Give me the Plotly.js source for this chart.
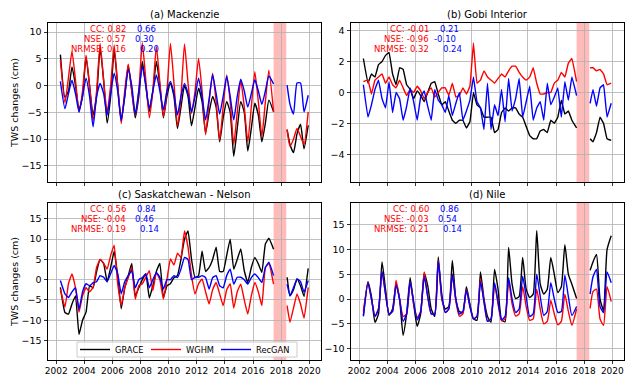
<!DOCTYPE html>
<html>
<head>
<meta charset="utf-8">
<script src="https://cdn.plot.ly/plotly-3.0.1.min.js"></script>
<style>html,body{margin:0;padding:0;background:#fff}#chart{width:625px;height:376px}</style>
</head>
<body>
<div id="chart"></div>
<script>
// Time (decimal years); null entry at 2017.9 marks the GRACE gap
const time = [2002.3, 2002.625, 2002.875,
  2003.125, 2003.375, 2003.625, 2003.875,
  2004.125, 2004.375, 2004.625, 2004.875,
  2005.125, 2005.375, 2005.625, 2005.875,
  2006.125, 2006.375, 2006.625, 2006.875,
  2007.125, 2007.375, 2007.625, 2007.875,
  2008.125, 2008.375, 2008.625, 2008.875,
  2009.125, 2009.375, 2009.625, 2009.875,
  2010.125, 2010.375, 2010.625, 2010.875,
  2011.125, 2011.375, 2011.625, 2011.875,
  2012.125, 2012.375, 2012.625, 2012.875,
  2013.125, 2013.375, 2013.625, 2013.875,
  2014.125, 2014.375, 2014.625, 2014.875,
  2015.125, 2015.375, 2015.625, 2015.875,
  2016.125, 2016.375, 2016.625, 2016.875,
  2017.125, 2017.46,
  2017.9,
  2018.42, 2018.625, 2018.875, 2019.125, 2019.375, 2019.625, 2019.92];

// (a) Mackenzie
const macGRACE = [5.8, -2.2, -1.0,
  3.5, 0.0, -4.5, -2.0,
  5.3, 0.0, -5.5, -2.0,
  7.0, 1.0, -7.0, -2.0,
  6.5, 0.0, -6.5, -2.0,
  3.8, -1.0, -6.0, -2.0,
  4.5, 0.0, -4.8, -1.0,
  4.5, 0.0, -6.0, -2.0,
  0.5, -2.0, -8.0, -4.0,
  0.0, -2.0, -7.5, -4.0,
  -0.5, -3.0, -8.8, -5.0,
  -2.0, -4.0, -10.5, -6.0,
  -3.0, -5.0, -13.2, -8.0,
  -3.0, -5.0, -12.2, -8.0,
  -3.3, -5.5, -10.5, -7.0,
  -2.7, -4.9,
  null,
  -8.2, -11.0, -12.5, -9.0, -7.2, -11.8, -7.4];
const macWGHM = [4.8, -3.2, 1.5,
  6.4, 1.0, -5.0, -1.0,
  5.7, 0.0, -6.5, -1.0,
  7.9, 1.0, -5.0, 0.0,
  7.6, 0.0, -7.1, -1.0,
  4.0, -1.0, -5.5, -1.0,
  8.0, 1.0, -6.0, -1.0,
  7.3, 0.5, -5.8, -1.0,
  7.9, 0.5, -7.5, -2.0,
  7.8, 0.5, -5.2, -1.0,
  5.1, -1.0, -9.2, -3.0,
  2.3, -3.0, -10.2, -4.0,
  2.0, -3.0, -11.0, -5.0,
  1.0, -4.0, -10.5, -4.0,
  2.6, -3.0, -9.5, -3.0,
  2.9, -4.9,
  null,
  -8.2, -11.3, -10.0, -8.0, -9.5, -11.0, -4.9];
const macRecGAN = [0.8, -4.3, -1.5,
  1.0, -1.5, -4.9, -2.0,
  1.4, -2.0, -7.7, -2.0,
  0.4, -1.5, -5.5, -1.5,
  2.3, -1.0, -6.5, -2.0,
  3.0, 0.0, -5.3, -1.0,
  3.6, 0.0, -4.3, -1.0,
  2.0, -1.0, -4.5, -1.0,
  0.8, -1.5, -5.5, -2.0,
  0.4, -1.5, -4.9, -2.0,
  1.4, -2.0, -6.4, -2.5,
  2.0, -1.5, -5.3, -2.0,
  1.7, -2.0, -6.4, -2.0,
  1.2, -1.0, -4.0, -1.5,
  1.1, -1.0, -3.5, -1.0,
  1.8, 0.3,
  null,
  0.1, -3.5, -5.3, 0.5, 0.5, -4.9, -1.8];

// (b) Gobi Interior
const gobiGRACE = [2.2, 0.6, 1.2,
  1.0, 1.8, 2.0, 2.4,
  2.6, 1.2, 0.5, 1.6,
  1.5, 0.5, 0.2, -0.4,
  0.1, -0.2, -0.6, 0.0,
  0.6, 0.7, -0.1, -0.8,
  -0.6, -1.2, -1.8, -2.0,
  -1.8, -1.8, -2.3, -1.9,
  0.0, -0.8, -1.0, -1.6,
  -1.6, -1.6, -2.6, -2.4,
  -1.3, -1.0, -1.2, -1.0,
  -1.0, -1.4, -1.6, -2.2,
  -2.8, -3.0, -3.0, -2.5,
  -2.4, -2.6, -1.8, -2.0,
  -1.6, -0.5, -1.4, -1.2,
  -1.8, -2.3,
  null,
  -3.0, -3.2, -2.6, -1.6, -2.0, -3.0, -3.1];
const gobiWGHM = [0.7, 0.8, -0.1,
  0.8, 1.0, 1.2, 0.6,
  1.0, 0.5, 0.3, 0.8,
  0.3, -0.2, 0.2, 0.0,
  0.4, 0.1, -0.4, 0.0,
  0.3, -0.3, 0.0, 0.3,
  0.3, -0.2, 0.6, -0.3,
  -0.2, 0.3, -0.1, 0.4,
  3.2, 0.6, 0.8, 1.4,
  1.0, 0.8, 0.6, 0.9,
  1.2, 1.0, 1.4, 1.7,
  1.7, 1.3, 1.0, 0.8,
  1.0, 1.6, 0.6, -0.1,
  -0.1, 0.0, 0.0, 0.6,
  0.8, 1.3, 1.0, 1.9,
  2.2, 0.7,
  null,
  1.6, 1.6, 1.4, 1.5, 1.2, 0.5, 0.6];
const gobiRecGAN = [0.5, -1.6, -0.8,
  0.2, 0.8, -0.4, -1.0,
  0.7, -1.3, 0.0, -0.4,
  -1.8, -0.9, 0.3, -0.6,
  -1.8, -0.3, 0.1, -0.9,
  -1.8, 0.2, -0.5, -0.8,
  -1.3, -0.2, -1.5, -0.7,
  0.0, -1.8, -1.2, -0.5,
  1.0, -0.6, -1.0, -2.4,
  0.6, -2.4, -0.8, -1.5,
  0.2, -1.9, 0.9, -1.2,
  -0.4, 0.9, -1.6, -0.6,
  0.4, -1.8, -1.0, -0.6,
  -1.8, 0.6, -0.8, -0.3,
  0.3, -1.6, 0.7, -0.5,
  1.0, -0.2,
  null,
  -0.7, 0.2, -0.9, 0.3, 0.5, -1.6, -0.7];

// (c) Saskatchewan - Nelson
const sasGRACE = [-1.9, -8.1, -8.5,
  -6.0, -4.0, -13.5, -10.0,
  -8.0, -1.5, -2.0, 2.0,
  5.0, 4.0, -0.5, 3.0,
  7.0, 1.0, -7.2, -2.0,
  1.0, 4.0, -4.0, -2.0,
  0.0, 1.5, -4.5, -1.5,
  2.0, 4.0, -4.5, -1.5,
  -1.0, 0.5, 1.0, 5.0,
  10.0, 12.0, 5.0, 0.5,
  1.0, 7.0, 2.0, 3.0,
  5.0, 8.0, 2.0, 2.0,
  6.0, 10.0, 2.6, 5.0,
  7.6, 2.2, -0.7, 3.0,
  5.5, 3.9, 1.8, 8.8,
  10.2, 7.5,
  null,
  0.6, -4.0, -2.5, 0.2, -1.5, -4.1, 2.8];
const sasWGHM = [-2.3, -6.8, -1.0,
  1.4, -2.0, -8.0, -4.0,
  -2.0, -3.0, -1.9, 3.0,
  5.0, 4.0, 2.6, 6.0,
  8.5, -1.0, -6.4, -2.0,
  0.5, 3.0, -4.8, -1.5,
  -1.0, 0.6, 2.2, -2.7,
  1.8, 0.0, -4.8, 0.0,
  5.1, 3.6, 6.5, 5.5,
  12.0, 8.0, 1.0, -3.5,
  -1.0, 0.2, -3.0, -6.0,
  -2.5, -0.7, -3.5, -6.4,
  -2.5, -1.0, -7.0, -3.0,
  -1.1, -5.0, -8.5, -4.0,
  -0.7, -3.0, -6.4, 3.0,
  4.0, -1.1,
  null,
  -6.4, -10.5, -7.0, -3.5, -6.0, -9.5, -1.9];
const sasRecGAN = [-0.2, -3.5, -4.4,
  -3.0, -2.0, -7.3, -3.0,
  -1.0, -1.5, -0.8, -0.5,
  1.0, 0.6, -0.5, 1.5,
  3.5, 1.5, -3.5, -0.5,
  1.0, 2.2, -2.0, 0.0,
  0.5, 1.5, -2.0, 0.0,
  1.8, 0.5, -2.3, 0.0,
  0.0, 1.0, 0.5, 2.6,
  5.5, 5.0, 0.0, 0.6,
  0.6, 1.0, 0.5, -2.3,
  0.5, 1.0, -1.5, -2.0,
  1.0, 2.6, -1.1, 0.6,
  0.6, 0.0, -1.1, 0.5,
  1.4, 0.5, -0.7, 3.0,
  4.3, 1.0,
  null,
  -1.1, -4.0, -2.0, 0.2, -0.5, -3.1, -0.2];

// (d) Nile
const nileGRACE = [-3.3, 3.5, 0.5,
  -4.7, -3.0, 7.5, 2.0,
  -3.3, -2.0, 3.0, 0.0,
  -7.3, -3.0, 4.3, -1.0,
  -5.5, -3.0, 5.3, 2.7,
  -2.0, -3.5, 8.5, 0.0,
  -2.0, -1.5, 7.8, 0.0,
  -2.5, -2.7, 2.5, -1.0,
  -4.0, -4.3, 5.5, 0.0,
  -3.5, -4.7, 6.0, 2.0,
  -4.2, -4.6, 10.4, 3.0,
  0.1, 0.5, 8.4, 2.0,
  0.3, 1.0, 13.8, 3.0,
  1.0, 2.0, 8.4, 5.0,
  1.3, 2.5, 11.0, 5.0,
  3.0, 0.1,
  null,
  5.8, 7.5, 9.0, 0.0, -2.3, 10.0, 12.8];
const nileWGHM = [-2.5, 3.3, 0.0,
  -3.5, -2.0, 5.5, 1.0,
  -3.0, -2.5, 3.8, 0.0,
  -3.5, -3.0, 3.5, -1.0,
  -3.7, -2.5, 5.5, 0.5,
  -3.0, -3.0, 7.8, 0.5,
  -2.7, -2.0, 5.0, -0.5,
  -3.5, -3.0, 2.0, -1.5,
  -4.0, -3.5, 4.0, -0.5,
  -4.5, -4.0, 3.0, -1.0,
  -4.4, -4.0, 3.7, -1.0,
  -3.4, -3.0, 2.5, -1.5,
  -4.3, -4.0, 2.0, -2.0,
  -5.0, -4.5, -0.3, -3.0,
  -5.2, -4.5, 1.0, -2.5,
  -5.3, -2.0,
  null,
  -1.9, 1.5, 2.0, -4.0, -5.3, 2.5, -0.5];
const nileRecGAN = [-3.5, 3.3, 0.0,
  -3.5, -2.0, 5.6, 1.0,
  -3.0, -2.5, 2.8, 0.0,
  -4.5, -3.0, 3.5, -0.5,
  -4.2, -2.5, 4.5, 0.5,
  -3.0, -3.0, 7.6, 1.0,
  -2.7, -2.0, 5.0, 0.0,
  -3.0, -2.5, 1.8, -1.5,
  -4.0, -3.5, 3.5, -0.5,
  -4.5, -4.0, 3.3, -0.5,
  -4.2, -3.5, 4.3, 0.0,
  -2.7, -2.0, 4.6, 0.5,
  -3.5, -3.0, 5.0, 0.5,
  -3.3, -2.5, 3.3, 0.0,
  -2.7, -2.5, 4.8, 0.5,
  -3.3, -1.5,
  null,
  1.0, 4.5, 6.0, -1.5, -2.7, 5.5, 3.3];

const seriesNames = ["GRACE", "WGHM", "RecGAN"];
const seriesColors = ["#000000", "#ff0000", "#0000ff"];
const panelTitles = ["(a) Mackenzie", "(b) Gobi Interior", "(c) Saskatchewan - Nelson", "(d) Nile"];
const statLabels = ["CC: ", "NSE: ", "NRMSE: "];
const statsWGHM = [["0.82", "0.57", "0.16"], ["-0.01", "-0.96", "0.32"], ["0.56", "-0.04", "0.19"], ["0.60", "-0.03", "0.21"]];
const statsRecGAN = [["0.66", "0.30", "0.20"], ["0.21", "-0.10", "0.24"], ["0.84", "0.46", "0.14"], ["0.86", "0.54", "0.14"]];
const yTickVals = [[-15, -10, -5, 0, 5, 10], [-4, -2, 0, 2, 4], [-15, -10, -5, 0, 5, 10, 15], [-10, -5, 0, 5, 10, 15]];
const yRanges = [[-18, 11.7], [-5.8, 4.5], [-19.8, 18.9], [-12.3, 19.4]];
const xTickVals = [2002, 2004, 2006, 2008, 2010, 2012, 2014, 2016, 2018, 2020];
const gapStart = 2017.46, gapEnd = 2018.36;

const panels = [
  [macGRACE, macWGHM, macRecGAN],
  [gobiGRACE, gobiWGHM, gobiRecGAN],
  [sasGRACE, sasWGHM, sasRecGAN],
  [nileGRACE, nileWGHM, nileRecGAN]
];

const W = 625, H = 376;
const FONT = "DejaVu Sans, sans-serif";
const boxes = [ // [left, right, top, bottom] in px
  [48, 321, 23, 182], [351, 624, 23, 182],
  [48, 321, 203, 360], [351, 624, 203, 360]
];
const smooth = [0.5, 0.2, 0.35, 0.5];
const legendIds = ["legend", "legend2", "legend3"];
const legendX = [75, 146, 216];           // px, left edge of each legend entry
const legBox = [77, 297, 342, 357];       // legend frame inside panel (c)

const traces = [];
panels.forEach((p, i) => {
  const ax = i === 0 ? "" : String(i + 1);
  p.forEach((vals, k) => {
    traces.push({
      x: time, y: vals, type: "scatter", mode: "lines",
      name: seriesNames[k], legendgroup: seriesNames[k],
      legend: legendIds[k], showlegend: i === 2,
      line: {color: seriesColors[k], width: 1.4, shape: "spline", smoothing: smooth[i]},
      xaxis: "x" + ax, yaxis: "y" + ax,
      connectgaps: false, hoverinfo: "skip"
    });
  });
});

const layout = {
  width: W, height: H,
  margin: {l: 0, r: 0, t: 0, b: 0},
  paper_bgcolor: "#ffffff", plot_bgcolor: "#ffffff",
  font: {family: FONT, size: 9.5, color: "#000000"},
  showlegend: true,
  shapes: [{
    type: "rect", xref: "paper", yref: "paper",
    x0: legBox[0] / W, x1: legBox[1] / W, y0: 1 - legBox[3] / H, y1: 1 - legBox[2] / H,
    fillcolor: "rgba(255,255,255,0.85)", line: {color: "#cccccc", width: 1}, layer: "above"
  }],
  annotations: []
};
legendIds.forEach((id, k) => {
  layout[id] = {
    orientation: "h", x: legendX[k] / W, y: 1 - ((legBox[2] + legBox[3]) / 2) / H,
    xanchor: "left", yanchor: "middle",
    bgcolor: "rgba(0,0,0,0)", borderwidth: 0,
    font: {family: FONT, size: 8.3}, itemwidth: 30
  };
});

boxes.forEach((b, i) => {
  const ax = i === 0 ? "" : String(i + 1);
  const bottomRow = i >= 2;
  layout["xaxis" + ax] = {
    domain: [b[0] / W, b[1] / W], range: [2001.42, 2020.83],
    tickvals: xTickVals, ticktext: xTickVals.map(String),
    showticklabels: bottomRow, ticks: "outside", ticklen: 2.5, tickwidth: 0.8, tickcolor: "#000",
    showgrid: true, gridcolor: "#b0b0b0", gridwidth: 0.8, zeroline: false,
    showline: true, linecolor: "#000", linewidth: 1, mirror: true,
    anchor: "y" + ax, tickfont: {size: 9, family: FONT}
  };
  layout["yaxis" + ax] = {
    domain: [1 - b[3] / H, 1 - b[2] / H], range: yRanges[i],
    tickvals: yTickVals[i], ticks: "outside", ticklen: 3.5, tickwidth: 0.8, tickcolor: "#000",
    showgrid: true, gridcolor: "#b0b0b0", gridwidth: 0.8, zeroline: false,
    showline: true, linecolor: "#000", linewidth: 1, mirror: true,
    anchor: "x" + ax, tickfont: {size: 9.5, family: FONT}
  };
  if (i === 0 || i === 2) {
    layout["yaxis" + ax].title = {text: "TWS changes (cm)", font: {size: 9.5, family: FONT}, standoff: 1};
  }
  layout.shapes.push({
    type: "rect", xref: "x" + ax, yref: "y" + ax + " domain",
    x0: gapStart, x1: gapEnd, y0: 0, y1: 1,
    fillcolor: "rgba(255,0,0,0.27)", line: {width: 0}, layer: "below"
  });
  // subplot title
  layout.annotations.push({
    text: panelTitles[i], xref: "paper", yref: "paper",
    x: (b[0] + b[1]) / 2 / W, y: 1 - (b[2] - 8.5) / H,
    xanchor: "center", yanchor: "middle", showarrow: false,
    font: {size: 10, family: FONT, color: "#000"}
  });
  // statistics
  const redRight = b[0] + 80;
  const blueLeft = [b[0] + 87, b[0] + 85, b[0] + 90];
  const lineY = [b[2] + 6.3, b[2] + 16, b[2] + 25.7];
  for (let r = 0; r < 3; r++) {
    layout.annotations.push({
      text: statLabels[r] + statsWGHM[i][r], xref: "paper", yref: "paper",
      x: redRight / W, y: 1 - lineY[r] / H, xanchor: "right", yanchor: "middle",
      showarrow: false, font: {size: 8.5, family: FONT, color: "#ff0000"}
    });
    const bt = statsRecGAN[i][r];
    const bl = bt.startsWith("-") ? blueLeft[r] - 4 : blueLeft[r];
    layout.annotations.push({
      text: bt, xref: "paper", yref: "paper",
      x: bl / W, y: 1 - lineY[r] / H, xanchor: "left", yanchor: "middle",
      showarrow: false, font: {size: 8.5, family: FONT, color: "#0000ff"}
    });
  }
});

Plotly.newPlot("chart", traces, layout, {staticPlot: true, displayModeBar: false});
</script>
</body>
</html>
